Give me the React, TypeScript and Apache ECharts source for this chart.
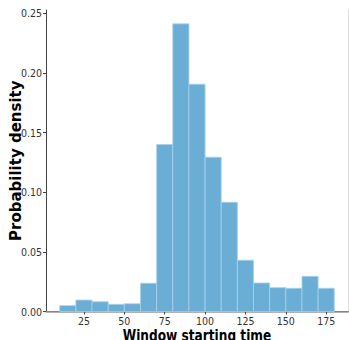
import React, { useEffect, useRef } from "react";
import * as echarts from "echarts";

const binStarts = [10, 20, 30, 40, 50, 60, 70, 80, 90, 100, 110, 120, 130, 140, 150, 160, 170];
const binWidth = 10;
const densities = [0.0049, 0.0096, 0.0082, 0.006, 0.0065, 0.0237, 0.140, 0.2412, 0.1906, 0.1294, 0.0916, 0.043, 0.0239, 0.020, 0.0195, 0.0295, 0.0195];
const xTicks = [25, 50, 75, 100, 125, 150, 175];
const yTicks = [0, 0.05, 0.1, 0.15, 0.2, 0.25];
const xTitle = "Window starting time";
const yTitle = "Probability density";

const tickFont = "'DejaVu Sans Condensed', 'DejaVu Sans', sans-serif";

export default function App() {
  const ref = useRef<HTMLDivElement>(null);
  useEffect(() => {
    if (!ref.current) return;
    const chart = echarts.init(ref.current, undefined, { renderer: "svg" });
    const data = binStarts.map((s, i) => [s, s + binWidth, densities[i]]);
    chart.setOption({
      animation: false,
      grid: { left: 46, right: 1, top: 10, bottom: 28.5, containLabel: false, outerBoundsMode: "none" },
      graphic: [
        {
          type: "text",
          x: 197,
          y: 343,
          scaleX: 0.76,
          originX: 0,
          style: {
            text: xTitle,
            font: "bold 16px 'DejaVu Sans', sans-serif",
            fill: "#000",
            align: "center",
            verticalAlign: "bottom",
          },
        },
      ],
      xAxis: [
        {
          type: "value",
          min: 1.5,
          max: 188.5,
          splitLine: { show: false },
          axisLine: { show: true, lineStyle: { color: "#444", width: 1 } },
          axisTick: { show: true, length: 3, lineStyle: { color: "#444" }, customValues: xTicks },
          axisLabel: { color: "#333", fontSize: 10.5, fontFamily: tickFont, margin: 4, customValues: xTicks },
        },
        {
          type: "value",
          position: "top",
          min: 1.5,
          max: 188.5,
          splitLine: { show: false },
          axisLine: { show: true, lineStyle: { color: "#999", width: 1.5 } },
          axisTick: { show: false },
          axisLabel: { show: false },
        },
      ],
      yAxis: [
        {
          type: "value",
          min: 0,
          max: 0.2528,
          splitLine: { show: false },
          axisLine: { show: true, lineStyle: { color: "#444", width: 1 } },
          axisTick: { show: true, length: 3, lineStyle: { color: "#444" }, customValues: yTicks },
          axisLabel: {
            color: "#333",
            fontSize: 10.5,
            fontFamily: tickFont,
            margin: 4,
            customValues: yTicks,
            formatter: (v: number) => v.toFixed(2),
          },
          name: yTitle,
          nameLocation: "middle",
          nameGap: 23,
          nameMoveOverlap: false,
          nameTextStyle: { fontSize: 15, fontWeight: "bold", color: "#000", fontFamily: "'DejaVu Sans', sans-serif" },
        },
        {
          type: "value",
          position: "right",
          min: 0,
          max: 0.2528,
          splitLine: { show: false },
          axisLine: { show: true, lineStyle: { color: "#ddd", width: 1 } },
          axisTick: { show: false },
          axisLabel: { show: false },
        },
      ],
      series: [
        {
          type: "custom",
          xAxisIndex: 0,
          yAxisIndex: 0,
          data,
          renderItem: (params: any, api: any) => {
            const p0 = api.coord([api.value(0), api.value(2)]);
            const p1 = api.coord([api.value(1), 0]);
            return {
              type: "rect",
              shape: { x: p0[0], y: p0[1], width: p1[0] - p0[0], height: p1[1] - p0[1] },
              style: { fill: "#6aaed6", stroke: "#a9d0e8", lineWidth: 0.8 },
            };
          },
        },
      ],
    });
    return () => chart.dispose();
  }, []);
  return (
    <div
      ref={ref}
      style={{ position: "absolute", left: 0, top: 0, width: 349, height: 340, background: "#fff" }}
    />
  );
}
